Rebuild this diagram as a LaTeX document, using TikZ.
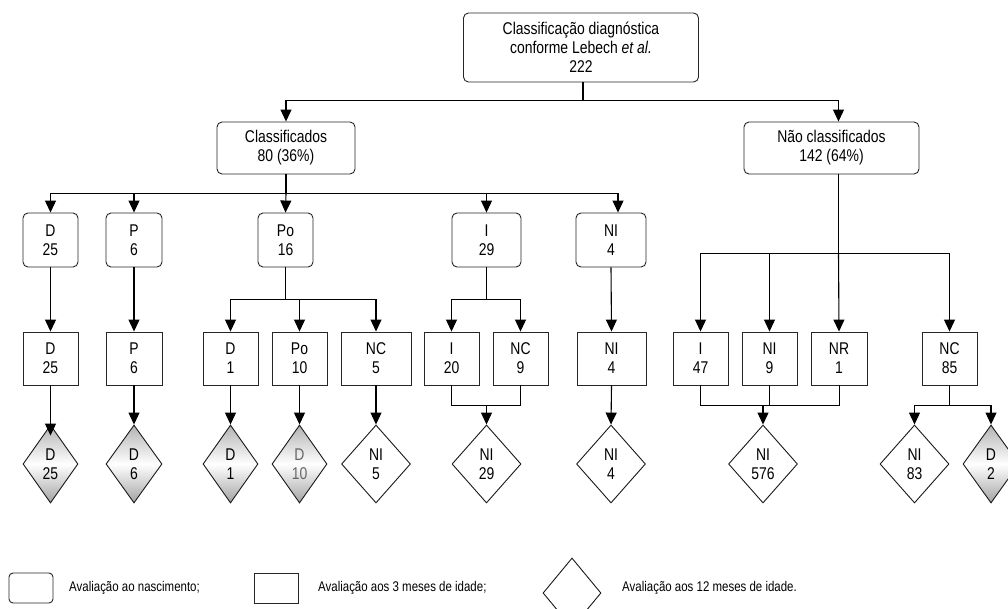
\documentclass[tikz,border=0pt]{standalone}
\usepackage{fontspec}
\setmainfont{Liberation Sans}[FakeStretch=0.82]
\usetikzlibrary{shapes.geometric,arrows.meta}
\begin{document}
\begin{tikzpicture}[x=1pt,y=-1pt,
  font=\fontsize{17}{19}\selectfont,
  rbox/.style={draw=black!85, line width=0.9pt, rounded corners=5pt, inner sep=0pt, align=center, minimum height=54pt},
  sbox/.style={draw=black!85, line width=0.9pt, inner sep=0pt, align=center, minimum height=53pt},
  dia/.style={diamond, draw=black!90, line width=0.9pt, inner sep=0pt, align=center, minimum height=78pt},
  shd/.style={dia, top color=black!30, bottom color=black!36, middle color=white},
  ln/.style={draw=black, line width=1.1pt},
  arr/.style={ln, -{Triangle[length=12pt,width=11pt]}},
  legtxt/.style={font=\fontsize{14}{16}\selectfont, anchor=west, inner sep=0pt}
]
\useasboundingbox (0,0) rectangle (1008,609);
\clip (0,0) rectangle (1008,609);
\fill[white] (0,0) rectangle (1008,609);

% top level
\node[rbox, minimum width=235pt, minimum height=69pt] (top) at (581,47.5)
  {Classificação diagnóstica\\conforme Lebech \textit{et al.}\\222};
\node[rbox, minimum width=138pt, minimum height=52pt] (cl) at (286,148) {Classificados\\80 (36\%)};
\node[rbox, minimum width=175pt, minimum height=52pt] (nc) at (831.5,148) {Não classificados\\142 (64\%)};

% row 1 (birth)
\node[rbox, minimum width=55pt] (a1) at (50.5,240) {D\\25};
\node[rbox, minimum width=56pt] (a2) at (134,240) {P\\6};
\node[rbox, minimum width=55pt] (a3) at (285.5,240) {Po\\16};
\node[rbox, minimum width=69pt] (a4) at (486.5,240) {I\\29};
\node[rbox, minimum width=70pt] (a5) at (611,240) {NI\\4};

% row 2 (3 months)
\node[sbox, minimum width=55pt] (b1) at (50.5,358.5) {D\\25};
\node[sbox, minimum width=56pt] (b2) at (134,358.5) {P\\6};
\node[sbox, minimum width=55pt] (b3) at (230.5,358.5) {D\\1};
\node[sbox, minimum width=55pt] (b4) at (299.5,358.5) {Po\\10};
\node[sbox, minimum width=70pt] (b5) at (376,358.5) {NC\\5};
\node[sbox, minimum width=55pt] (b6) at (451.5,358.5) {I\\20};
\node[sbox, minimum width=55pt] (b7) at (520.5,358.5) {NC\\9};
\node[sbox, minimum width=69pt] (b8) at (611.5,358.5) {NI\\4};
\node[sbox, minimum width=55pt] (b9) at (700.5,358.5) {I\\47};
\node[sbox, minimum width=55pt] (b10) at (769.5,358.5) {NI\\9};
\node[sbox, minimum width=56pt] (b11) at (839,358.5) {NR\\1};
\node[sbox, minimum width=55pt] (b12) at (949.5,358.5) {NC\\85};

% row 3 (12 months)
\node[shd, minimum width=55pt] (d1) at (50.5,464) {D\\25};
\node[shd, minimum width=56pt] (d2) at (134,464) {D\\6};
\node[shd, minimum width=55pt] (d3) at (230.5,464) {D\\1};
\node[shd, minimum width=55pt, text=black!60] (d4) at (299.5,464) {D\\10};
\node[dia, minimum width=69pt] (d5) at (376,464) {NI\\5};
\node[dia, minimum width=69pt] (d6) at (486.5,464) {NI\\29};
\node[dia, minimum width=69pt] (d7) at (611,464) {NI\\4};
\node[dia, minimum width=69pt] (d8) at (763,464) {NI\\576};
\node[dia, minimum width=69pt] (d9) at (914.5,464) {NI\\83};
\node[shd, minimum width=56pt] (d10) at (991,464) {D\\2};

% connectors: top level
\draw[ln] ([xshift=2pt]top.south) -- ++(0,18) coordinate (j0);
\draw[arr] (j0) -| (cl.north);
\draw[arr] (j0) -| ([xshift=7pt]nc.north);

% classificados -> row 1
\draw[ln] (cl.south) -- ++(0,19) coordinate (j1);
\draw[arr] (j1) -| (a1.north);
\draw[arr] (j1) -| (a2.north);
\draw[arr] (j1) -- (a3.north);
\draw[arr] (j1) -| (a4.north);
\draw[arr] (j1) -| ([xshift=7pt]a5.north);

% nao classificados -> row 2
\draw[ln] ([xshift=7pt]nc.south) -- ++(0,79) coordinate (j2);
\draw[arr] (j2) -| (b9.north);
\draw[arr] (j2) -| (b10.north);
\draw[arr] (j2) -- (b11.north);
\draw[arr] (j2) -| (b12.north);

% row 1 -> row 2
\draw[arr] (a1.south) -- (b1.north);
\draw[arr] (a2.south) -- (b2.north);
\draw[ln] (a3.south) -- ++(0,32) coordinate (j3);
\draw[arr] (j3) -| (b3.north);
\draw[arr] (j3) -| (b4.north);
\draw[arr] (j3) -| (b5.north);
\draw[ln] (a4.south) -- ++(0,32) coordinate (j4);
\draw[arr] (j4) -| (b6.north);
\draw[arr] (j4) -| (b7.north);
\draw[arr] (a5.south) -- (b8.north);

% row 2 -> row 3
\draw[arr, shorten >=-11pt] (b1.south) -- (d1.north);
\draw[arr] (b2.south) -- (d2.north);
\draw[arr] (b3.south) -- (d3.north);
\draw[arr] (b4.south) -- (d4.north);
\draw[arr] (b5.south) -- (d5.north);
\path (b6.south) ++(0,20) coordinate (j5);
\draw[ln, line width=0.9pt] (b6.south) -- (j5) -| (b7.south);
\draw[arr] (j5 -| d6.north) -- (d6.north);
\draw[arr] (b8.south) -- (d7.north);
\path (b9.south) ++(0,20) coordinate (j6);
\draw[ln, line width=0.9pt] (b9.south) -- (j6) -| (b11.south);
\draw[ln, line width=0.9pt] (b10.south) -- (b10.south |- j6);
\draw[arr] (j6 -| d8.north) -- (d8.north);
\draw[ln, line width=0.9pt] (b12.south) -- ++(0,20) coordinate (j7);
\draw[arr] (j7) -| (d9.north);
\draw[arr] (j7) -| (d10.north);

% legend
\node[rbox, minimum width=44pt, minimum height=30pt, rounded corners=4pt] (l1) at (31,588) {};
\node[legtxt] (t1) at (69,588) {Avaliação ao nascimento;};
\node[sbox, minimum width=44pt, minimum height=30pt] (l2) at (276,588) {};
\node[legtxt] (t2) at (318,588) {Avaliação aos 3 meses de idade;};
\node[dia, minimum width=58pt, minimum height=70pt] (l3) at (572,593) {};
\node[legtxt] (t3) at (622,588) {Avaliação aos 12 meses de idade.};
\end{tikzpicture}
\end{document}
